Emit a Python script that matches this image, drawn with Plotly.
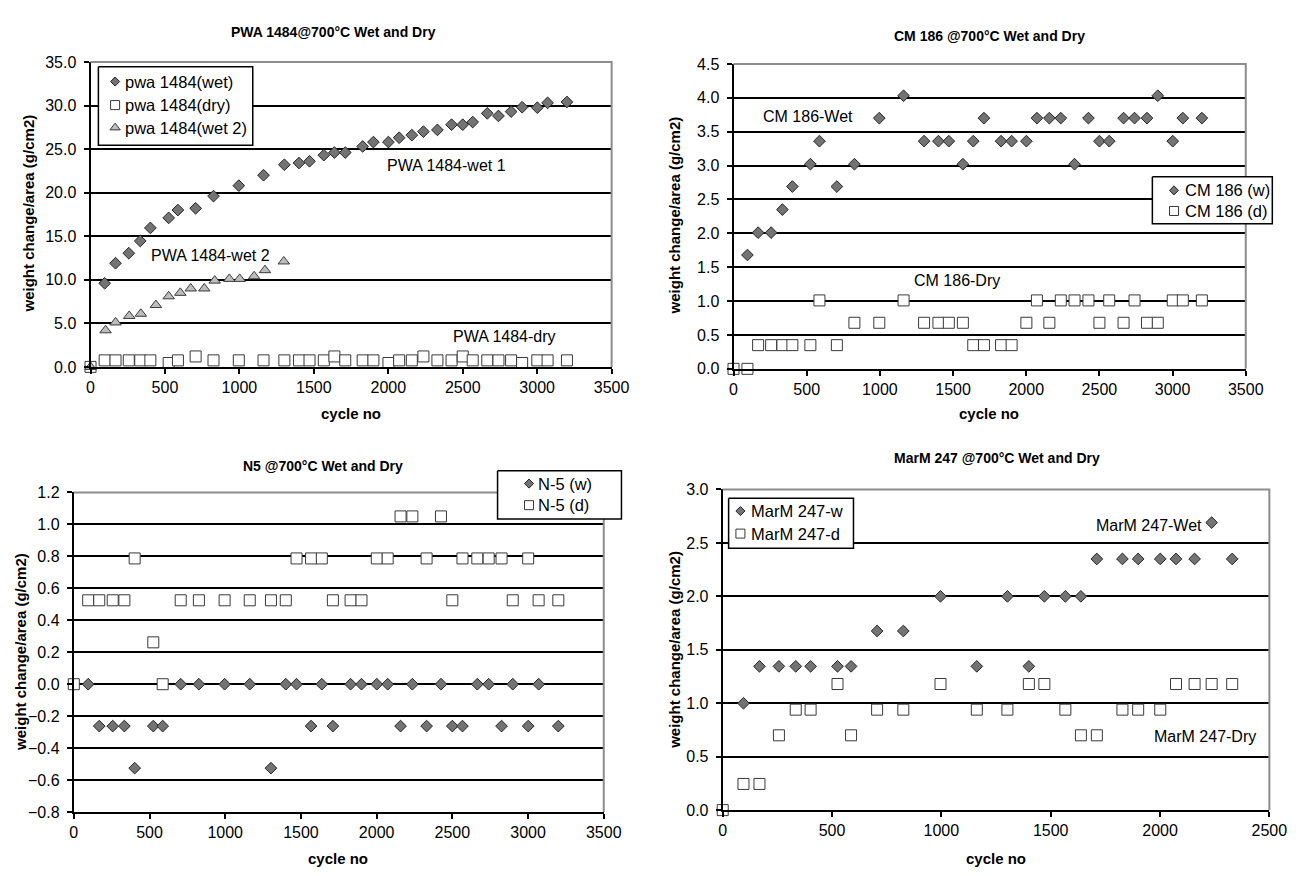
import plotly.graph_objects as go

W, H = 1309, 876
FONT = "Liberation Sans, Arial, sans-serif"

# ---------------- data ----------------
cycles = [95, 168, 257, 334, 402, 525, 587, 706, 826, 996, 1162, 1302, 1400, 1471,
          1567, 1638, 1711, 1828, 1900, 2001, 2073, 2158, 2236, 2330, 2425, 2500,
          2567, 2665, 2740, 2825, 2899, 3001, 3070, 3200]

# PWA 1484
pwa_wet = [9.6, 11.9, 13.05, 14.45, 15.95, 17.1, 18.0, 18.2, 19.6, 20.8, 22.0, 23.2,
           23.4, 23.6, 24.3, 24.6, 24.6, 25.3, 25.8, 25.8, 26.3, 26.6, 27.0, 27.2,
           27.8, 27.8, 28.1, 29.1, 28.8, 29.3, 29.8, 29.75, 30.3, 30.4]
pwa_dry_x = [0] + cycles
pwa_dry = [0.0, 0.75, 0.75, 0.75, 0.75, 0.75, 0.45, 0.75, 1.2, 0.75, 0.75, 0.75, 0.75,
           0.75, 0.75, 0.75, 1.2, 0.75, 0.75, 0.75, 0.45, 0.75, 0.75, 1.2, 0.75,
           0.75, 1.2, 0.75, 0.75, 0.75, 0.75, 0.45, 0.75, 0.75, 0.75]
pwa_wet2_x = [0, 101, 168, 260, 338, 439, 525, 603, 673, 764, 834, 932, 1002, 1099, 1172, 1298]
pwa_wet2 = [0.0, 4.2, 5.1, 5.85, 6.1, 7.1, 8.1, 8.5, 9.0, 9.0, 9.9, 10.1, 10.1, 10.4, 11.1, 12.1]

# CM 186
cm_wet = [1.68, 2.01, 2.01, 2.35, 2.69, 3.02, 3.36, 2.69, 3.02, 3.70, 4.03, 3.36, 3.36,
          3.36, 3.02, 3.36, 3.70, 3.36, 3.36, 3.36, 3.70, 3.70, 3.70, 3.02, 3.70, 3.36,
          3.36, 3.70, 3.70, 3.70, 4.03, 3.36, 3.70, 3.70]
cm_dry_x = [0] + cycles
cm_dry = [0.0, 0.0, 0.35, 0.35, 0.35, 0.35, 0.35, 1.01, 0.35, 0.68, 0.68, 1.01, 0.68,
          0.68, 0.68, 0.68, 0.35, 0.35, 0.35, 0.35, 0.68, 1.01, 0.68, 1.01, 1.01, 1.01,
          0.68, 1.01, 0.68, 1.01, 0.68, 0.68, 1.01, 1.01, 1.01]

# N5
n5_wet = [0.0, -0.262, -0.262, -0.262, -0.525, -0.262, -0.262, 0.0, 0.0, 0.0, 0.0,
          -0.525, 0.0, 0.0, -0.262, 0.0, -0.262, 0.0, 0.0, 0.0, 0.0, -0.262, 0.0,
          -0.262, 0.0, -0.262, -0.262, 0.0, 0.0, -0.262, 0.0, -0.262, 0.0, -0.262]
n5_dry_x = [0] + cycles
n5_dry = [0.0, 0.525, 0.525, 0.525, 0.525, 0.787, 0.262, 0.0, 0.525, 0.525, 0.525, 0.525,
          0.525, 0.525, 0.787, 0.787, 0.787, 0.525, 0.525, 0.525, 0.787, 0.787, 1.05,
          1.05, 0.787, 1.05, 0.525, 0.787, 0.787, 0.787, 0.787, 0.525, 0.787, 0.525, 0.525]

# MarM 247
mar_x = cycles[:24]
mar_wet = [1.0, 1.345, 1.345, 1.345, 1.345, 1.345, 1.345, 1.676, 1.676, 2.0, 1.345, 2.0,
           1.345, 2.0, 2.0, 2.0, 2.35, 2.35, 2.35, 2.35, 2.35, 2.35, 2.69, 2.35]
mar_dry_x = [0] + cycles[:24]
mar_dry = [0.0, 0.245, 0.245, 0.70, 0.94, 0.94, 1.18, 0.70, 0.94, 0.94, 1.18, 0.94, 0.94,
           1.18, 1.18, 0.94, 0.70, 0.70, 0.94, 0.94, 0.94, 1.18, 1.18, 1.18, 1.18]

# ---------------- helpers ----------------
def px(x):
    return x / W

def py(y):
    return 1 - y / H

WET = dict(symbol="diamond", size=9, color="#737373", line=dict(color="#262626", width=1))
DRY = dict(symbol="square", size=11, color="white", line=dict(color="#3a3a3a", width=1))
WET2 = dict(symbol="triangle-up", size=10, color="#bdbdbd", line=dict(color="#3a3a3a", width=1))
LWET = dict(symbol="diamond", size=7, color="#737373", line=dict(color="#262626", width=1))
LDRY = dict(symbol="square", size=9, color="white", line=dict(color="#3a3a3a", width=1))
LWET2 = dict(symbol="triangle-up", size=9, color="#bdbdbd", line=dict(color="#3a3a3a", width=1))

fig = go.Figure()

def add(x, y, marker, ax):
    fig.add_trace(go.Scatter(x=x, y=y, mode="markers", marker=marker, showlegend=False,
                             xaxis="x" + ax, yaxis="y" + ax, cliponaxis=False, hoverinfo="x+y"))

add(cycles, pwa_wet, WET, "")
add(pwa_dry_x, pwa_dry, DRY, "")
add(pwa_wet2_x, pwa_wet2, WET2, "")

add(cycles, cm_wet, WET, "2")
add(cm_dry_x, cm_dry, DRY, "2")

add(cycles, n5_wet, WET, "3")
add(n5_dry_x, n5_dry, DRY, "3")

add(mar_x, mar_wet, WET, "4")
add(mar_dry_x, mar_dry, DRY, "4")

# plot rectangles in pixels: (left, right, top, bottom)
boxes = {
    "": (88, 618, 55, 366),
    "2": (742, 1263, 57, 368),
    "3": (71, 610, 494, 820),
    "4": (731, 1287, 491, 818),
}
yranges = {"": ([0, 35], 5), "2": ([0, 4.5], 0.5), "3": ([-0.8, 1.2], 0.2), "4": ([0, 3.0], 0.5)}
xranges = {"": 3500, "2": 3500, "3": 3500, "4": 2500}

tickfont = dict(family=FONT, size=16, color="black")
layout = {}
for k, (l, r, t, b) in boxes.items():
    yr, dt = yranges[k]
    layout["xaxis" + k] = dict(domain=[px(l), px(r)], anchor="y" + k, range=[0, xranges[k]],
                               dtick=500, tick0=0, showgrid=False, zeroline=False,
                               showline=True, linecolor="black", linewidth=2,
                               ticks="outside", ticklen=5, tickwidth=2, tickcolor="black",
                               tickfont=tickfont, fixedrange=True)
    layout["yaxis" + k] = dict(domain=[py(b), py(t)], anchor="x" + k, range=yr, dtick=dt,
                               tick0=yr[0], tickformat=".1f", showgrid=True, gridcolor="black",
                               gridwidth=2, zeroline=False, showline=True, linecolor="black",
                               linewidth=2, ticks="outside", ticklen=5, tickwidth=2,
                               tickcolor="black", tickfont=tickfont, fixedrange=True,
                               ticklabelstandoff=4)

# overlay axis in pixel units for decorations (plot-area border, legends)
layout["xaxis5"] = dict(domain=[0, 1], range=[0, W], visible=False, anchor="y5", fixedrange=True)
layout["yaxis5"] = dict(domain=[0, 1], range=[H, 0], visible=False, anchor="x5", fixedrange=True)

def deco(x, y, **kw):
    fig.add_trace(go.Scatter(x=x, y=y, xaxis="x5", yaxis="y5", showlegend=False,
                             hoverinfo="skip", cliponaxis=False, **kw))

for k, (l, r, t, b) in boxes.items():
    deco([l, r, r], [t, t, b], mode="lines", line=dict(color="#8c8c8c", width=2))

ann = []
def text(x, y, s, size=16, bold=False, angle=0, anchor="center"):
    ann.append(dict(x=px(x), y=py(y), xref="paper", yref="paper",
                    text=("<b>%s</b>" % s) if bold else s,
                    showarrow=False, xanchor=anchor, yanchor="middle", textangle=angle,
                    font=dict(family=FONT, size=size, color="black")))

# legends: (box l, r, t, b), symbol x, text x, rows [(y, marker, label)]
legends = [
    ((96, 253, 60, 140), 113, 121, [(75, LWET, "pwa 1484(wet)"), (99, LDRY, "pwa 1484(dry)"),
                                   (122, LWET2, "pwa 1484(wet 2)")]),
    ((1168, 1290, 172, 220), 1190, 1199, [(186, LWET, "CM 186 (w)"), (207, LDRY, "CM 186 (d)")]),
    ((502, 628, 472, 521), 534, 541, [(485, LWET, "N-5 (w)"), (507, LDRY, "N-5 (d)")]),
    ((737, 864, 500, 551), 749, 758, [(513, LWET, "MarM 247-w"), (536, LDRY, "MarM 247-d")]),
]
for (l, r, t, b), sx, tx, rows in legends:
    deco([l, r, r, l, l], [t, t, b, b, t], mode="lines", fill="toself", fillcolor="white",
         line=dict(color="black", width=1.5))
    for yy, mk, lab in rows:
        deco([sx], [yy], mode="markers", marker=mk)
        text(tx, yy, lab, 16.5, anchor="left")

# titles
text(335, 24, "PWA 1484@700°C Wet and Dry", 14, True)
text(1002, 29, "CM 186 @700°C Wet and Dry", 14, True)
text(324, 467, "N5 @700°C Wet and Dry", 14, True)
text(1010, 459, "MarM 247 @700°C Wet and Dry", 14, True)
# axis titles
for xc, yc in [(353, 414), (1002, 414), (340, 867), (1009, 867)]:
    text(xc, yc, "cycle no", 15, True)
for xc, yc in [(25, 210), (682, 212), (17, 657), (682, 655)]:
    text(xc, yc, "weight change/area (g/cm2)", 15, True, -90)
# in-plot labels
text(450, 161, "PWA 1484-wet 1")
text(210, 252, "PWA 1484-wet 2")
text(509, 335, "PWA 1484-dry")
text(818, 111, "CM 186-Wet")
text(969, 278, "CM 186-Dry")
text(1165, 528, "MarM 247-Wet")
text(1222, 743, "MarM 247-Dry")

fig.update_layout(width=W, height=H, margin=dict(l=0, r=0, t=0, b=0), autosize=False,
                  paper_bgcolor="white", plot_bgcolor="rgba(0,0,0,0)", showlegend=False,
                  font=dict(family=FONT, color="black"), annotations=ann, **layout)

fig.write_html("out.html")
